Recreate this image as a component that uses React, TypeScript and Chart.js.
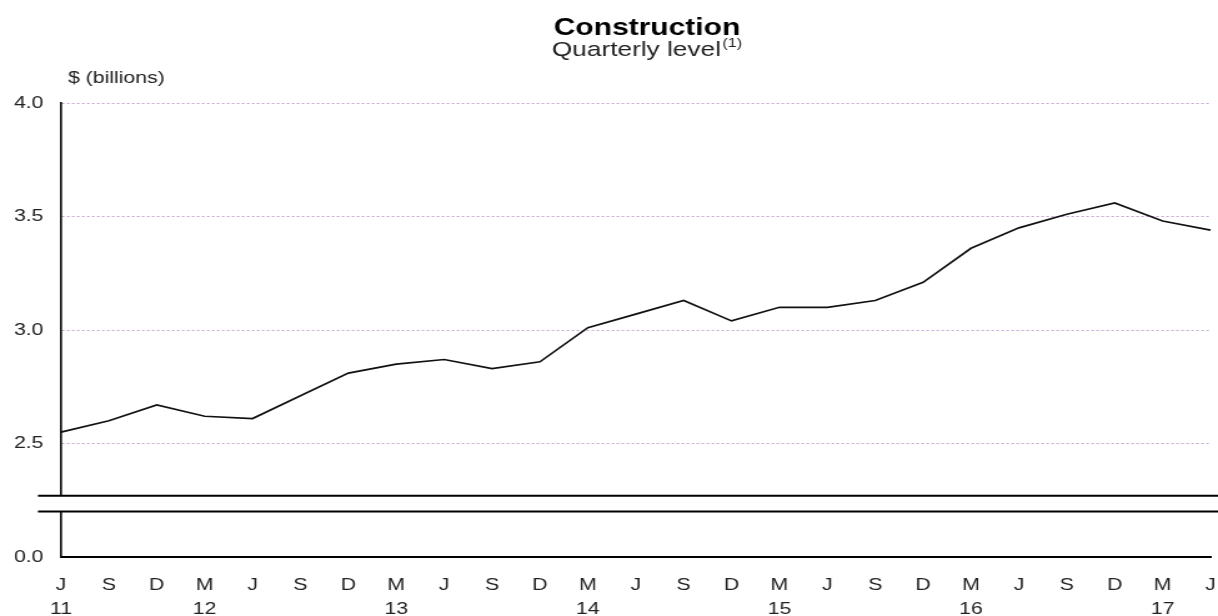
import React, { useEffect, useRef } from "react";
import { Chart, registerables } from "chart.js";

Chart.register(...registerables);

// ---- data ----
const months = ["J", "S", "D", "M", "J", "S", "D", "M", "J", "S", "D", "M", "J", "S", "D", "M", "J", "S", "D", "M", "J", "S", "D", "M", "J"];
const years = ["11", "", "", "12", "", "", "", "13", "", "", "", "14", "", "", "", "15", "", "", "", "16", "", "", "", "17", ""];
const construction = [2.55, 2.60, 2.67, 2.62, 2.61, 2.71, 2.81, 2.85, 2.87, 2.83, 2.86, 3.01, 3.07, 3.13, 3.04, 3.10, 3.10, 3.13, 3.21, 3.36, 3.45, 3.51, 3.56, 3.48, 3.44];
const yTicks = [2.0, 2.5, 3.0, 3.5, 4.0];
const yTickLabels = ["0.0", "2.5", "3.0", "3.5", "4.0"];
const breakHigh = 2.27;
const breakLow = 2.2;
const titleText = "Construction";
const subtitleText = "Quarterly level";
const subtitleNote = "(1)";
const unitText = "$ (billions)";

const FONT = '"Liberation Sans", Arial, Helvetica, sans-serif';
const W = 975; // internal width, stretched to 1218 css px
const H = 621;

const labels = months.map((m, i) => (years[i] ? [m, years[i]] : m));

const decorPlugin = {
  id: "decor",
  afterDraw(chart: any) {
    const { ctx, chartArea } = chart;
    const y = chart.scales.y;
    const yHi = y.getPixelForValue(breakHigh);
    const yLo = y.getPixelForValue(breakLow);
    ctx.save();
    // axis break
    ctx.fillStyle = "#ffffff";
    ctx.fillRect(chartArea.left - 4, yHi, chart.width, yLo - yHi);
    ctx.strokeStyle = "#000";
    ctx.lineWidth = 2;
    ctx.beginPath();
    ctx.moveTo(chartArea.left - 18.4, yHi);
    ctx.lineTo(chart.width, yHi);
    ctx.moveTo(chartArea.left - 18.4, yLo);
    ctx.lineTo(chart.width, yLo);
    ctx.stroke();

    // titles
    const cx = (chartArea.left + chartArea.right) / 2 + 9;
    ctx.fillStyle = "#000";
    ctx.textBaseline = "alphabetic";
    ctx.textAlign = "center";
    ctx.font = `bold 24px ${FONT}`;
    ctx.fillText(titleText, cx, 35);

    ctx.textAlign = "left";
    ctx.font = `21px ${FONT}`;
    const w1 = ctx.measureText(subtitleText).width;
    ctx.font = `13px ${FONT}`;
    const w2 = ctx.measureText(subtitleNote).width;
    const sx = cx - (w1 + w2 + 1) / 2;
    ctx.font = `21px ${FONT}`;
    ctx.fillStyle = "#222";
    ctx.fillText(subtitleText, sx, 56);
    ctx.font = `13px ${FONT}`;
    ctx.fillText(subtitleNote, sx + w1 + 1, 47);

    // unit label
    ctx.font = `17px ${FONT}`;
    ctx.fillText(unitText, chartArea.left + 5.6, 83);
    ctx.restore();
  },
};

export default function App() {
  const ref = useRef<HTMLCanvasElement | null>(null);
  useEffect(() => {
    document.body.style.margin = "0";
    document.body.style.overflow = "hidden";
    const canvas = ref.current!;
    const chart = new Chart(canvas, {
      type: "line",
      data: {
        labels,
        datasets: [
          {
            data: construction,
            borderColor: "#111",
            borderWidth: 1.7,
            pointRadius: 0,
            tension: 0,
            fill: false,
          },
        ],
      },
      options: {
        responsive: false,
        animation: false,
        devicePixelRatio: 1,
        layout: { padding: { top: 103, left: 11, right: 6, bottom: 0 } },
        plugins: {
          legend: { display: false },
          title: { display: false },
          tooltip: { enabled: false },
        },
        scales: {
          x: {
            type: "category",
            offset: false,
            grid: { display: false, drawTicks: false },
            border: { display: true, color: "#000", width: 2 },
            afterFit: (scale: any) => {
              scale.height = 64;
              scale.paddingLeft = 0;
              scale.paddingRight = 0;
            },
            ticks: {
              autoSkip: false,
              maxRotation: 0,
              minRotation: 0,
              padding: 16,
              color: "#222",
              font: { family: FONT, size: 17, lineHeight: 24 / 17 },
            },
          },
          y: {
            type: "linear",
            min: 2.0,
            max: 4.0,
            afterBuildTicks: (scale: any) => {
              scale.ticks = yTicks.map((v) => ({ value: v }));
            },
            afterFit: (scale: any) => {
              scale.width = 37.8;
              scale.paddingTop = 0;
              scale.paddingBottom = 0;
            },
            grid: {
              drawTicks: false,
              color: (c: any) => (c.tick && c.tick.value > 2.0 ? "#c4a6cf" : "rgba(0,0,0,0)"),
              lineWidth: 1,
            },
            border: { display: true, color: "#000", width: 1.6, dash: [2, 2] },
            ticks: {
              padding: 14,
              color: "#222",
              font: { family: FONT, size: 17 },
              callback: (v: any) => {
                const i = yTicks.indexOf(Number(v));
                return i >= 0 ? yTickLabels[i] : "";
              },
            },
          },
        },
      },
      plugins: [decorPlugin],
    } as any);
    return () => chart.destroy();
  }, []);

  return (
    <div style={{ width: 1218, height: 616, overflow: "hidden", position: "relative" }}>
      <canvas
        ref={ref}
        width={W}
        height={H}
        style={{ width: "1218px", height: `${H}px`, display: "block" }}
      />
    </div>
  );
}
